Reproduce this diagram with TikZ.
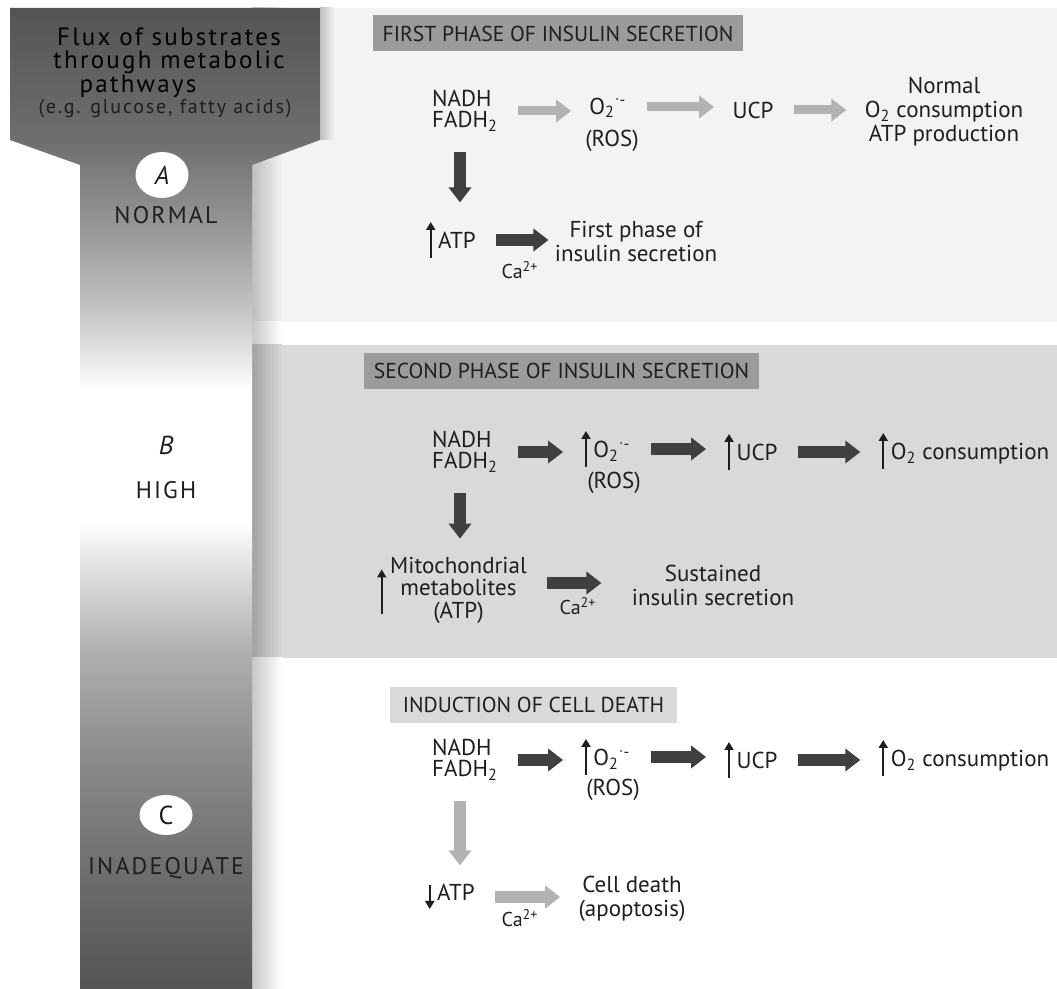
\documentclass[tikz,border=0pt]{standalone}
\usepackage{fontspec}
\setmainfont{PT Sans}
\newfontfamily\trackfont[LetterSpace=9]{PT Sans}
\usepackage{tikz}
\usetikzlibrary{arrows.meta,positioning,shapes.geometric}

\definecolor{panelA}{HTML}{F3F3F3}
\definecolor{panelB}{HTML}{D9D9D9}
\definecolor{hdrdark}{HTML}{9B9B9B}
\definecolor{hdrlight}{HTML}{D9D9D9}
\definecolor{arrdark}{HTML}{3F3F3F}
\definecolor{arrlight}{HTML}{B2B2B2}
\definecolor{txt}{HTML}{1E1E1E}
\definecolor{fx54}{HTML}{545454}
\definecolor{fx6e}{HTML}{6E6E6E}
\definecolor{fx6c}{HTML}{6C6C6C}
\definecolor{fx8a}{HTML}{8A8A8A}
\definecolor{fx98}{HTML}{989898}
\definecolor{fxb0}{HTML}{B0B0B0}
\definecolor{fxbe}{HTML}{BEBEBE}
\definecolor{fxe0}{HTML}{E0E0E0}
\definecolor{fxe8}{HTML}{E8E8E8}

% column of the substrate flux, dark - white - dark
\pgfdeclareverticalshading{fluxshade}{100bp}{color(0bp)=(fx54); color(25bp)=(fx54);
  color(30.56bp)=(fx6c); color(36.67bp)=(fx8a); color(42.28bp)=(fxb0);
  color(46.36bp)=(fxe0); color(48.9bp)=(white); color(55.53bp)=(white);
  color(57.06bp)=(fxe8); color(60.11bp)=(fxbe); color(63.68bp)=(fx98);
  color(68.27bp)=(fx6e); color(75bp)=(fx54); color(100bp)=(fx54)}

\tikzset{
  flow_txt/.style = {font=\fontsize{11.5}{10.5}\selectfont, text=txt, inner sep=2pt,
    align=center},
  two_line/.style = {flow_txt, font=\fontsize{11.5}{12}\selectfont},
  ca_txt/.style = {flow_txt, font=\fontsize{10}{10}\selectfont},
  hdr_box/.style = {font=\fontsize{10.8}{12}\selectfont, text=txt, minimum height=18pt,
    inner sep=0pt},% phase titles
  arr_dark/.style = {draw=arrdark, line width=6pt,
    -{Triangle[length=7.5pt,width=11pt]}, shorten <=8pt, shorten >=7pt},
  arr_light/.style = {arr_dark, draw=arrlight},
  thin_arr/.style = {line width=1.2pt, -{Triangle[length=4pt,width=4.5pt]}},
  side_txt/.style = {font=\trackfont\fontsize{12}{12}\selectfont, text=txt},
  side_lbl/.style = {ellipse, fill=white, minimum width=26.5pt, minimum height=23pt,
    inner sep=0pt, text=txt, font=\fontsize{13}{13}\selectfont\itshape}% A, B, C
}
\newcommand\uparr[1][13.5pt]{\tikz[baseline=0pt]\draw[thin_arr] (0,-4.5pt) -- (0,#1);}
\newcommand\downarr{\tikz[baseline=0pt]\draw[thin_arr] (0,8pt) -- (0,-4pt);}
\newcommand\Otwo{O\textsubscript{2}}
\newcommand\supox{O\textsubscript{2}\textsuperscript{\raisebox{1pt}{$\cdot$}-}}

\begin{document}
\begin{tikzpicture}[x=0.5pt,y=-0.5pt]
\useasboundingbox (0,0) rectangle (1057,989);
% panels
\fill[panelA] (252,8) rectangle (1057,322);
\fill[panelB] (252,345) rectangle (1057,658);
% shadow beside the column
\shade[left color=black!22!panelA, right color=panelA] (252,8) rectangle (282,322);
\shade[left color=black!22!panelA, right color=panelA] (320,8) rectangle (334,140);
\shade[left color=black!22, right color=white] (252,322) rectangle (282,345);
\shade[left color=black!25!panelB, right color=panelB] (252,345) rectangle (282,658);
\shade[left color=black!22, right color=white] (252,658) rectangle (282,989);
% flux column
\path[shading=fluxshade] (10,8) -- (320,8) -- (320,140) -- (252,165) -- (252,989)
  -- (80,989) -- (80,165) -- (10,140) -- cycle;

\node[font=\trackfont\fontsize{12.5}{11.3}\selectfont, text=black, align=center] (fluxT)
  at (169,63) {Flux of substrates\\through metabolic\\pathways\hspace*{31pt}};
\node[font=\trackfont\fontsize{10}{11}\selectfont, text=txt] (egT) at (165,109)
  {(e.g. glucose, fatty acids)};
\node[side_lbl] (lblA) at (162,175) {A};
\node[side_txt] (normalT) at (166,215) {NORMAL};
\node[side_lbl, fill=none] (lblB) at (166,445) {B};
\node[side_txt] (highT) at (166,490) {HIGH};
\node[side_lbl, minimum height=20pt, font=\fontsize{13}{13}\selectfont] (lblC) at (166,815) {C};
\node[side_txt] (inadT) at (166,868) {INADEQUATE};

% A: first phase
\node[hdr_box, fill=hdrdark, minimum width=185pt] (hdrA) at (558,33.5)
  {FIRST PHASE OF INSULIN SECRETION};
\node[flow_txt, align=left] (nadhA) at (465,111) {NADH\\FADH\textsubscript{2}};
\node[flow_txt] (roA) at (608,107) {\supox};
\node[flow_txt] (rosA) at (612,141) {(ROS)};
\node[flow_txt] (ucpA) at (753,110) {UCP};
\node[two_line] (normA) at (944,112)
  {Normal\\\Otwo\ consumption\\ATP production};
\node[flow_txt] (atpA) at (451,240) {\uparr\hspace{1.5pt}ATP};
\node[two_line] (firstA) at (636,242) {First phase of\\insulin secretion};
\node[ca_txt] (caA) at (520,270) {Ca\textsuperscript{2+}};

\draw[arr_light, line width=4.5pt] (nadhA) -- (nadhA -| roA.west);
\draw[arr_light, line width=4.5pt] (roA) -- (roA -| ucpA.west);
\draw[arr_light, line width=4.5pt] (ucpA) -- (ucpA -| normA.west);
\draw[arr_dark] ([xshift=-2.5pt]nadhA.south) -- ([xshift=-2.5pt]nadhA.south |- atpA.north);
\draw[arr_dark, shorten >=1pt] (atpA) -- (atpA -| firstA.west);

% B: second phase
\node[hdr_box, fill=hdrdark, minimum width=197.5pt] (hdrB) at (561.5,371)
  {SECOND PHASE OF INSULIN SECRETION};
\node[flow_txt, align=left] (nadhB) at (465,452) {NADH\\FADH\textsubscript{2}};
\node[flow_txt] (roB) at (606,449) {\uparr\hspace{1.5pt}\supox};
\node[flow_txt] (rosB) at (614,483) {(ROS)};
\node[flow_txt] (ucpB) at (751,452) {\uparr\hspace{1.5pt}UCP};
\node[flow_txt] (o2B) at (964,451) {\uparr\hspace{1.5pt}\Otwo\ consumption};
\node[flow_txt] (mitoB) at (452,591) {\raisebox{-4.25pt}{\uparr[18pt]}\hspace{2pt}%
  \begin{tabular}{@{}c@{}}Mitochondrial\\metabolites\\(ATP)\end{tabular}};
\node[two_line] (sustB) at (713,585) {Sustained\\insulin secretion};
\node[ca_txt] (caB) at (578,606) {Ca\textsuperscript{2+}};

\draw[arr_dark] (nadhB) -- (nadhB -| roB.west);
\draw[arr_dark] (roB) -- (roB -| ucpB.west);
\draw[arr_dark] (ucpB) -- (ucpB -| o2B.west);
\draw[arr_dark] ([xshift=-2.5pt]nadhB.south) -- ([xshift=-2.5pt]nadhB.south |- mitoB.north);
\draw[arr_dark, shorten >=13pt] ([yshift=4pt]mitoB.east) -- ([yshift=4pt]mitoB.east -| sustB.west);

% C: cell death
\node[hdr_box, fill=hdrlight, minimum width=143.5pt] (hdrC) at (533.5,705)
  {INDUCTION OF CELL DEATH};
\node[flow_txt, align=left] (nadhC) at (465,760) {NADH\\FADH\textsubscript{2}};
\node[flow_txt] (roC) at (606,757) {\uparr\hspace{1.5pt}\supox};
\node[flow_txt] (rosC) at (613,790) {(ROS)};
\node[flow_txt] (ucpC) at (751,760) {\uparr\hspace{1.5pt}UCP};
\node[flow_txt] (o2C) at (964,758) {\uparr\hspace{1.5pt}\Otwo\ consumption};
\node[flow_txt] (atpC) at (450,897) {\downarr\hspace{1.5pt}ATP};
\node[two_line] (cellC) at (632,899) {Cell death\\(apoptosis)};
\node[ca_txt] (caC) at (520,918) {Ca\textsuperscript{2+}};

\draw[arr_dark] (nadhC) -- (nadhC -| roC.west);
\draw[arr_dark] (roC) -- (roC -| ucpC.west);
\draw[arr_dark] (ucpC) -- (ucpC -| o2C.west);
\draw[arr_light] ([xshift=-2.5pt]nadhC.south) -- ([xshift=-2.5pt]nadhC.south |- atpC.north);
\draw[arr_light] (atpC) -- (atpC -| cellC.west);
\end{tikzpicture}
\end{document}
